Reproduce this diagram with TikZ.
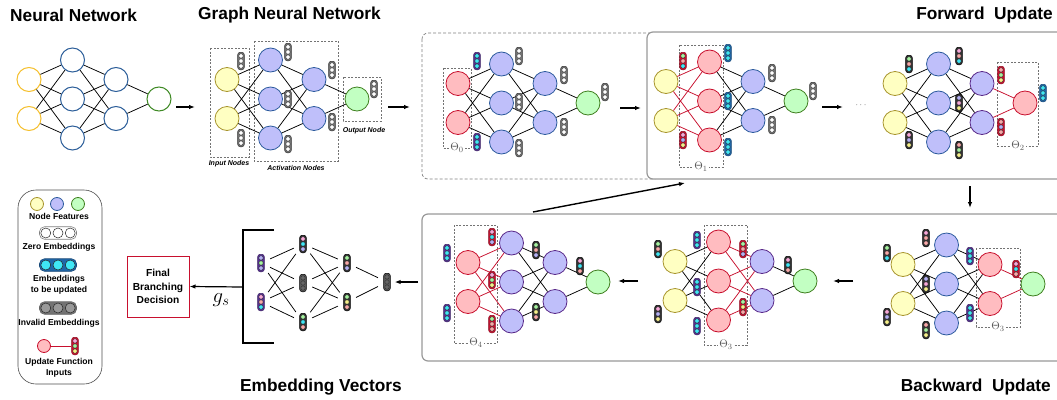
\documentclass[tikz,border=0pt]{standalone}
\usepackage{fontspec}
\setmainfont{Liberation Sans}
\usetikzlibrary{arrows.meta}
\definecolor{yfill}{HTML}{FFFFC2}
\definecolor{ydraw}{HTML}{A8952E}
\definecolor{bfill}{HTML}{BFBFFA}
\definecolor{bdraw}{HTML}{2E5C9E}
\definecolor{pdraw}{HTML}{5A2A8A}
\definecolor{gfill}{HTML}{C2FFC2}
\definecolor{gdraw}{HTML}{3F7F1F}
\definecolor{rfill}{HTML}{FFBCC0}
\definecolor{rdraw}{HTML}{C8102E}
\definecolor{nny}{HTML}{F5C02F}
\definecolor{nnb}{HTML}{2D5F9A}
\definecolor{nng}{HTML}{3F8A25}
\definecolor{updP}{HTML}{55308F}
\definecolor{updB}{HTML}{1F66A8}
\definecolor{eg}{HTML}{A6F2A0}
\definecolor{ep}{HTML}{F7A8D8}
\definecolor{ec}{HTML}{3FE6F5}
\definecolor{ev}{HTML}{B4B0F4}
\definecolor{ey}{HTML}{F6F08A}
\definecolor{es}{HTML}{F8A8A8}
\tikzset{
 nd/.style={circle, minimum size=24pt, inner sep=0pt, line width=0.8pt},
 nnY/.style={nd, draw=nny, fill=white, line width=1pt},
 nnB/.style={nd, draw=nnb, fill=white, line width=1pt},
 nnG/.style={nd, draw=nng, fill=white, line width=1pt},
 gy/.style={nd, draw=ydraw, fill=yfill},
 gb/.style={nd, draw=bdraw, fill=bfill},
 gp/.style={nd, draw=pdraw, fill=bfill},
 gg/.style={nd, draw=gdraw, fill=gfill},
 gr/.style={nd, draw=rdraw, fill=rfill},
 edge/.style={line width=0.75pt, black},
 redge/.style={line width=0.75pt, rdraw},
 embv/.style={rectangle, rounded corners=2.7pt, minimum width=6.8pt, minimum height=17.5pt, inner sep=0pt, line width=0.5pt},
 zero/.style={fill=black!55, draw=black!80},
 upd/.style={fill=updP, draw=updP!70!black},
 updb/.style={fill=updB, draw=updB!70!black},
 inp/.style={fill=rdraw, draw=rdraw!70!black},
 blk/.style={fill=black!80, draw=black},
 inv/.style={fill=black!65, draw=black},
 dbox/.style={draw=black!55, dash pattern=on 2pt off 1.5pt, line width=0.5pt},
 thlab/.style={fill=white, inner sep=1pt, text=black!65, font=\fontsize{11}{11}\selectfont},
 arr/.style={-{Latex[length=6pt,width=4.5pt]}, line width=1.2pt},
 ttl/.style={font=\fontsize{17.3}{19}\selectfont\bfseries, inner sep=0pt},
 small/.style={font=\fontsize{7}{7}\selectfont\bfseries\itshape, inner sep=0pt},
 ltext/.style={font=\fontsize{8.6}{10.8}\selectfont\bfseries, align=center, inner sep=0pt},
 panel/.style={draw=black!40, line width=1.2pt, rounded corners=6pt, fill=white},
 evline/.style={line width=0.75pt, shorten >=6pt, shorten <=6pt},
}
\newcommand\placenet[7]{%
 \node[#4] (#1i1) at (#2,#3-19.5) {};
 \node[#4] (#1i2) at (#2,#3+19.5) {};
 \node[#5] (#1a1) at (#2+43.5,#3-39) {};
 \node[#5] (#1a2) at (#2+43.5,#3) {};
 \node[#5] (#1a3) at (#2+43.5,#3+39) {};
 \node[#6] (#1b1) at (#2+87,#3-19.5) {};
 \node[#6] (#1b2) at (#2+87,#3+19.5) {};
 \node[#7] (#1o) at (#2+130,#3) {};
}
\newcommand\netedges[4]{%
 \foreach \ii in {1,2}{\foreach \jj in {1,2,3}{\draw[#2] (#1i\ii) -- (#1a\jj);}}%
 \foreach \jj in {1,2,3}{\foreach \kk in {1,2}{\draw[#3] (#1a\jj) -- (#1b\kk);}}%
 \foreach \kk in {1,2}{\draw[#4] (#1b\kk) -- (#1o);}%
}
\newcommand\emb[6]{%
 \node[embv,#3] (#1) at #2 {};
 \foreach \ecol/\eoff in {#4/5.1,#5/0,#6/-5.1}{\filldraw[fill=\ecol, draw=black!85, line width=0.3pt] (#1.center) ++(0pt,\eoff pt) circle[radius=2.2pt];}%
}
\newcommand\zemb[2]{\emb{#1}{#2}{zero}{white}{white}{white}}
\newcommand\uemb[3]{\emb{#1}{#2}{#3}{ec}{ec}{ec}}
\newcommand\hemb[4]{%
 \node[rectangle, rounded corners=5pt, minimum width=37pt, minimum height=12.5pt, inner sep=0pt, line width=0.6pt, #3] (#1) at #2 {};
 \foreach \eoff in {-12.2,0,12.2}{\filldraw[fill=#4, draw=black!85, line width=0.5pt] (#1.center) ++(\eoff pt,0pt) circle[radius=5pt];}%
}
\begin{document}
\begin{tikzpicture}[x=1pt,y=-1pt]
\useasboundingbox (0,0) rectangle (1057,399);

% titles
\node[ttl, anchor=west] (t1) at (10,15) {Neural Network};
\node[ttl, anchor=west] (t2) at (198,15) {Graph Neural Network};
\node[ttl, anchor=east] (t3) at (1053,15) {Forward\ \ Update};
\node[ttl, anchor=west] (t4) at (240,387) {Embedding Vectors};
\node[ttl, anchor=east] (t5) at (1051,387) {Backward\ \ Update};

% panels
\draw[rounded corners=6pt, dash pattern=on 3pt off 2pt, line width=0.7pt, draw=black!50] (422,33) rectangle (660,179);
\draw[panel] (647,32) rectangle (1075,179);
\draw[panel] (422,214) rectangle (1075,361);

% ---------- Neural network ----------
\placenet{n}{29}{99}{nnY}{nnB}{nnB}{nnG}
\netedges{n}{edge}{edge}{edge}

% ---------- GNN ----------
\draw[dbox] (210,48) rectangle (249,157);
\draw[dbox] (254,41) rectangle (338,161);
\draw[dbox] (343,77) rectangle (381,121);
\node[small] (lin) at (229,164) {Input Nodes};
\node[small] (lact) at (296,168) {Activation Nodes};
\node[small] (lout) at (364,131) {Output Node};
\placenet{g}{227}{99}{gy}{gb}{gb}{gg}
\netedges{g}{edge}{edge}{edge}
\zemb{ga}{(241,61)}\zemb{gb1}{(241,138)}\zemb{gc}{(288,52)}\zemb{gd}{(288,99)}
\zemb{ge}{(288,144)}\zemb{gf}{(332,70)}\zemb{gh}{(332,122)}\zemb{gk}{(374,89)}

% ---------- Theta0 ----------
\draw[dbox] (443,68) rectangle (471,148);
\node[thlab] (th0) at (457,148) {$\Theta_0$};
\placenet{z}{458}{103}{gr}{gb}{gb}{gg}
\netedges{z}{edge}{edge}{edge}
\uemb{za}{(477,61)}{upd}\uemb{zb}{(477,142)}{upd}
\zemb{zc}{(519,56)}\zemb{zd}{(519,102)}\zemb{ze}{(519,148)}
\zemb{zf}{(564,75)}\zemb{zg}{(564,127)}\zemb{zh}{(605,92)}

% ---------- Theta1 ----------
\draw[dbox] (679,45) rectangle (723,167);
\node[thlab] (th1) at (701,167) {$\Theta_1$};
\placenet{f}{666}{101}{gy}{gr}{gb}{gg}
\netedges{f}{redge}{edge}{edge}
\emb{fa}{(683,61)}{inp}{eg}{es}{ec}
\emb{fb}{(683,140)}{inp}{ep}{ev}{ey}
\uemb{fc}{(728,53)}{updb}\uemb{fd}{(728,101)}{updb}\uemb{fe}{(728,147)}{updb}
\zemb{ff}{(772,73)}\zemb{fg}{(772,125)}\zemb{fh}{(813,91)}
\node[font=\fontsize{9}{9}\selectfont, text=black!70] (dots) at (861,105) {$\cdots$};

% ---------- Theta2 ----------
\draw[dbox] (997,62) rectangle (1038,146);
\node[thlab] (th2) at (1018,146) {$\Theta_2$};
\placenet{s}{895}{103}{gy}{gb}{gp}{gr}
\netedges{s}{edge}{edge}{redge}
\emb{sa}{(909,64)}{blk}{eg}{es}{ec}
\emb{sb}{(909,140)}{blk}{ep}{ev}{ey}
\emb{sc}{(959,56)}{blk}{ep}{es}{ec}
\emb{sd}{(959,103)}{blk}{ev}{ep}{ey}
\emb{se}{(959,150)}{blk}{es}{eg}{ey}
\emb{sf}{(1001,75)}{inp}{es}{eg}{ey}
\emb{sg}{(1001,127)}{inp}{es}{ev}{es}
\uemb{sh}{(1043,93)}{updb}

% ---------- Backward right ----------
\draw[dbox] (976,248) rectangle (1020,327);
\node[thlab] (th3a) at (998,327) {$\Theta_3$};
\placenet{r}{903}{284}{gy}{gb}{gr}{gg}
\netedges{r}{edge}{edge}{redge}
\emb{ra}{(887,253)}{blk}{eg}{es}{ec}
\emb{rb}{(887,317)}{blk}{ep}{ev}{ey}
\emb{rc}{(926,238)}{blk}{ep}{es}{es}
\emb{rd}{(926,284)}{blk}{ev}{ep}{ey}
\emb{re}{(926,330)}{blk}{es}{eg}{ey}
\uemb{rf}{(970,256)}{upd}\uemb{rg}{(970,313)}{upd}
\emb{rh}{(1016,269)}{inp}{ep}{ec}{es}

% ---------- Backward middle ----------
\draw[dbox] (704,225) rectangle (747,345);
\node[thlab] (th3b) at (726,345) {$\Theta_3$};
\placenet{m}{675}{281}{gy}{gr}{gp}{gg}
\netedges{m}{edge}{redge}{edge}
\emb{ma}{(658,249)}{blk}{eg}{es}{ec}
\emb{mb}{(658,314)}{blk}{ep}{ev}{ey}
\uemb{mc}{(697,240)}{upd}\uemb{md}{(697,287)}{upd}\uemb{me}{(697,326)}{upd}
\emb{mf}{(743,249)}{inp}{eg}{es}{ev}
\emb{mg}{(743,307)}{inp}{eg}{ey}{es}
\emb{mh}{(788,265)}{blk}{ep}{ec}{es}

% ---------- Backward left ----------
\draw[dbox] (454,225) rectangle (497,343);
\node[thlab] (th4) at (476,343) {$\Theta_4$};
\placenet{l}{468}{282}{gr}{gp}{gp}{gg}
\netedges{l}{redge}{edge}{edge}
\uemb{la}{(447,253)}{upd}\uemb{lb}{(447,313)}{upd}
\emb{lc}{(492,237)}{inp}{ep}{ec}{ev}
\emb{ld}{(492,280)}{inp}{ep}{eg}{ey}
\emb{le}{(492,324)}{inp}{eg}{es}{es}
\emb{lf}{(536,250)}{blk}{eg}{es}{ev}
\emb{lg}{(536,312)}{blk}{eg}{ey}{es}
\emb{lh}{(580,266)}{blk}{ep}{ec}{es}

% ---------- Embedding vectors ----------
\emb{v11}{(261,263)}{upd}{ev}{eg}{ev}
\emb{v12}{(261,302)}{upd}{ep}{es}{ec}
\emb{v21}{(303,244)}{blk}{ep}{ec}{ev}
\emb{v22}{(303,283)}{inv}{black!60}{black!60}{black!60}
\emb{v23}{(303,322)}{blk}{eg}{ec}{es}
\emb{v31}{(347,263)}{blk}{eg}{es}{ev}
\emb{v32}{(347,302)}{blk}{eg}{ey}{es}
\emb{v41}{(387,282)}{inv}{black!60}{black!60}{black!60}
\foreach \a in {v11,v12}{\foreach \b in {v21,v22,v23}{\draw[evline] (\a) -- (\b);}}
\foreach \a in {v21,v22,v23}{\foreach \b in {v31,v32}{\draw[evline] (\a) -- (\b);}}
\foreach \a in {v31,v32}{\draw[evline] (\a) -- (v41);}
\draw[line width=1.3pt] (274,230) -- (243,230) -- (243,343) -- (274,343);
\coordinate (brk) at (243,287);
\node[draw=rdraw, line width=1pt, minimum width=62pt, minimum height=61pt, inner sep=0pt, align=center, font=\fontsize{10.2}{13.5}\selectfont\bfseries] (final) at (158,286.5) {Final\\Branching\\Decision};
\draw[arr] (brk) -- (final.east);
\node[font=\fontsize{20}{20}\selectfont] (gs) at (221,300) {$g_s$};

% ---------- arrows ----------
\coordinate (a1s) at (176,107); \coordinate (a1e) at (195,107);
\coordinate (a2s) at (388,107); \coordinate (a2e) at (410,107);
\coordinate (a3s) at (620,108); \coordinate (a3e) at (641,108);
\coordinate (a4s) at (822,107); \coordinate (a4e) at (843,107);
\coordinate (a5s) at (970,186); \coordinate (a5e) at (970,208);
\coordinate (a6s) at (853,281); \coordinate (a6e) at (833,281);
\coordinate (a7s) at (638,281); \coordinate (a7e) at (618,281);
\coordinate (a8s) at (418,282);
\coordinate (a9s) at (533,212); \coordinate (a9e) at (685,183);
\draw[arr] (a1s) -- (a1e);
\draw[arr] (a2s) -- (a2e);
\draw[arr] (a3s) -- (a3e);
\draw[arr] (a4s) -- (a4e);
\draw[arr] (a5s) -- (a5e);
\draw[arr] (a6s) -- (a6e);
\draw[arr] (a7s) -- (a7e);
\draw[arr, shorten >=4pt] (a8s) -- (v41);
\draw[arr, line width=1.4pt] (a9s) -- (a9e);

% ---------- legend ----------
\draw[draw=black!70, line width=0.6pt, rounded corners=18pt] (18,190) rectangle (102,384);
\node[gy, minimum size=13pt] (lg1) at (37,204) {};
\node[gb, minimum size=13pt] (lg2) at (57,204) {};
\node[gg, minimum size=13pt] (lg3) at (78,204) {};
\node[ltext] (lt1) at (59,216.5) {Node Features};
\hemb{lz}{(58,233)}{fill=white, draw=black!50}{white}
\node[ltext] (lt2) at (59,247) {Zero Embeddings};
\hemb{lu}{(58,265)}{fill=updB, draw=updB!70!black}{ec}
\node[ltext] (lt3) at (59,284.5) {Embeddings\\to be updated};
\hemb{lv}{(58,308)}{fill=black!55, draw=black!60}{black!40}
\node[ltext] (lt4) at (59,323) {Invalid Embeddings};
\node[gr, minimum size=13pt] (lr) at (44,346) {};
\emb{lre}{(75,346)}{inp}{ep}{eg}{ey}
\draw[redge, line width=1pt] (lr) -- (lre);
\node[ltext] (lt5) at (59,367.5) {Update Function\\Inputs};
\end{tikzpicture}
\end{document}
